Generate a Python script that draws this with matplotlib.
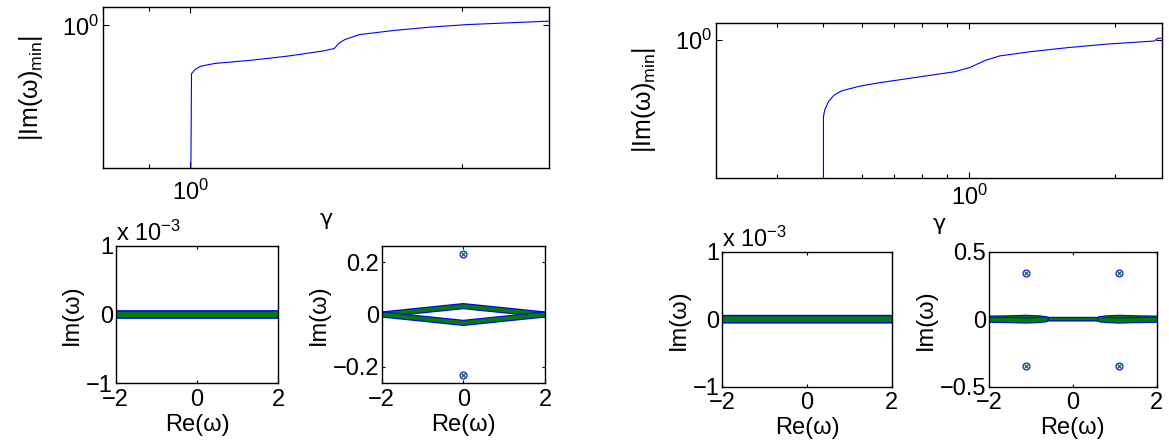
import matplotlib
matplotlib.use('Agg')
import matplotlib.pyplot as plt
from matplotlib.ticker import LogLocator, NullLocator, NullFormatter, FuncFormatter

plt.rcParams['font.family'] = ['Liberation Sans', 'DejaVu Sans']
plt.rcParams['mathtext.fontset'] = 'custom'
plt.rcParams['mathtext.rm'] = 'Liberation Sans'
plt.rcParams['mathtext.it'] = 'Liberation Sans:italic'
plt.rcParams['font.size'] = 17
plt.rcParams['axes.linewidth'] = 1.0

BLUE = (0, 0, 1)
GREEN = (0, 0.5, 0)

# --- top panels: |Im(w)_min| versus gamma (log-log) ---
gamma_a = [1.0, 1.003, 1.012, 1.026, 1.064, 1.167, 1.280, 1.404, 1.444, 1.463,
           1.484, 1.540, 1.689, 1.853, 2.032, 2.227, 2.522]
immin_a = [0.30, 0.774, 0.791, 0.805, 0.817, 0.831, 0.849, 0.873, 0.884, 0.911,
           0.927, 0.952, 0.974, 0.991, 1.004, 1.012, 1.023]

gamma_b = [0.5, 0.5, 0.503, 0.512, 0.526, 0.546, 0.597, 0.652, 0.780, 0.933,
           1.002, 1.077, 1.157, 1.335, 1.596, 1.909, 2.409, 2.453, 2.488]
immin_b = [0.30, 0.645, 0.670, 0.703, 0.730, 0.748, 0.769, 0.783, 0.808, 0.834,
           0.854, 0.889, 0.913, 0.935, 0.957, 0.976, 0.994, 1.010, 1.010]

# --- bottom panels: eigenvalues in the complex plane ---
# panel 1 (left group): all real
re1 = [-2, 2]
im1 = [0, 0]
# panel 2: two branches forming a thin diamond plus an isolated pair
re2_up = [-2, 0, 2]
im2_up = [0.0, 0.032, 0.0]
re2_lo = [-2, 0, 2]
im2_lo = [0.0, -0.032, 0.0]
re2_pts = [0.0, 0.0]
im2_pts = [0.233, -0.230]
# panel 3 (right group): all real
re3 = [-2, 2]
im3 = [0, 0]
# panel 4: real band with wider parts at the sides plus two isolated pairs
re4 = [-2, 2]
im4 = [0, 0]
re4_left = [-2, -1.6, -1.1, -0.8, -0.65]
im4_left = [0.004, 0.006, 0.010, 0.006, 0.0]
re4_right = [0.65, 0.8, 1.1, 1.6, 2]
im4_right = [0.0, 0.006, 0.010, 0.006, 0.004]
re4_pts = [-1.117, 1.108, -1.117, 1.108]
im4_pts = [0.345, 0.345, -0.346, -0.346]

W, H = 1169, 445
fig = plt.figure(figsize=(W / 100, H / 100), dpi=100)


def make_ax(x0, y0, x1, y1):
    return fig.add_axes([x0 / W, 1 - y1 / H, (x1 - x0) / W, (y1 - y0) / H])


def style_top(ax, xpad, gpad):
    ax.set_xscale('log')
    ax.set_yscale('log')
    ax.yaxis.set_minor_locator(NullLocator())
    ax.xaxis.set_minor_locator(LogLocator(subs=range(2, 10)))
    ax.xaxis.set_minor_formatter(NullFormatter())
    ax.yaxis.set_minor_formatter(NullFormatter())
    ax.tick_params(which='both', direction='in', top=True, right=True)
    ax.tick_params(which='major', length=4, width=0.8)
    ax.tick_params(which='minor', length=3, width=0.8)
    ax.tick_params(axis='x', pad=xpad)
    ax.tick_params(axis='y', pad=3)
    ax.set_ylabel('|Im(ω)$_{\\mathrm{min}}$|', labelpad=12, fontsize=18)
    ax.set_xlabel('γ', labelpad=gpad, family='DejaVu Sans', fontsize=16)


fmt = FuncFormatter(lambda v, p: f'{v:g}'.replace('-', '\u2212'))
fmt_milli = FuncFormatter(lambda v, p: f'{v * 1e3:g}'.replace('-', '\u2212'))


def style_bottom(ax, ylim, yticks, milli=False):
    ax.set_xlim(-2, 2)
    ax.set_ylim(*ylim)
    ax.set_xticks([-2, 0, 2])
    ax.set_yticks(yticks)
    ax.xaxis.set_major_formatter(fmt)
    ax.yaxis.set_major_formatter(fmt_milli if milli else fmt)
    ax.tick_params(direction='in', top=True, right=True, length=2.5, width=0.8)
    ax.tick_params(axis='x', pad=4)
    ax.tick_params(axis='y', pad=2)
    ax.set_xlabel('Re(ω)', labelpad=2)
    ax.set_ylabel('Im(ω)', labelpad=2)
    if milli:
        ax.text(0, 1.0, 'x 10$^{\u2212 3}$', transform=ax.transAxes,
                ha='left', va='bottom')


def band(ax, re, im, outer=6.3, inner=4.1):
    ax.plot(re, im, color=BLUE, lw=outer, solid_capstyle='round',
            solid_joinstyle='round', snap=False)
    ax.plot(re, im, color=GREEN, lw=inner, solid_capstyle='round',
            solid_joinstyle='round', snap=False)


def points(ax, re, im):
    ax.plot(re, im, 'o', ms=5, mfc='none', mec=BLUE, mew=0.8)
    ax.plot(re, im, 'x', ms=3.5, color=GREEN, mew=0.9)


# top left
ax = make_ax(103, 7.3, 549, 168.3)
ax.plot(gamma_a, immin_a, color=BLUE, lw=0.8)
style_top(ax, xpad=8.5, gpad=2.5)
ax.set_xlim(0.8, 2.5)
ax.set_ylim(0.469, 1.1)

# top right
ax = make_ax(716, 23.3, 1162, 177.7)
ax.plot(gamma_b, immin_b, color=BLUE, lw=0.8)
style_top(ax, xpad=5, gpad=3)
ax.set_xlim(0.3, 2.5)
ax.set_ylim(0.455, 1.1)

# bottom panel 1
ax = make_ax(115.7, 245.7, 278.3, 383.3)
band(ax, re1, im1)
style_bottom(ax, (-1e-3, 1e-3), [-1e-3, 0, 1e-3], milli=True)

# bottom panel 2
ax = make_ax(381.7, 245.7, 545, 383.3)
band(ax, re2_up, im2_up, outer=4.5, inner=2.8)
band(ax, re2_lo, im2_lo, outer=4.5, inner=2.8)
points(ax, re2_pts, im2_pts)
style_bottom(ax, (-0.263, 0.263), [-0.2, 0, 0.2])

# bottom panel 3
ax = make_ax(722.3, 251.7, 891.7, 386.7)
band(ax, re3, im3)
style_bottom(ax, (-1e-3, 1e-3), [-1e-3, 0, 1e-3], milli=True)

# bottom panel 4
ax = make_ax(989, 251.7, 1156.7, 386.7)
band(ax, re4, im4, outer=3.4, inner=1.6)
for sgn in (1, -1):
    band(ax, re4_left, [sgn * v for v in im4_left], outer=4.5, inner=3.0)
    band(ax, re4_right, [sgn * v for v in im4_right], outer=4.5, inner=3.0)
points(ax, re4_pts, im4_pts)
style_bottom(ax, (-0.5, 0.5), [-0.5, 0, 0.5])

fig.savefig('out.png', dpi=100)
